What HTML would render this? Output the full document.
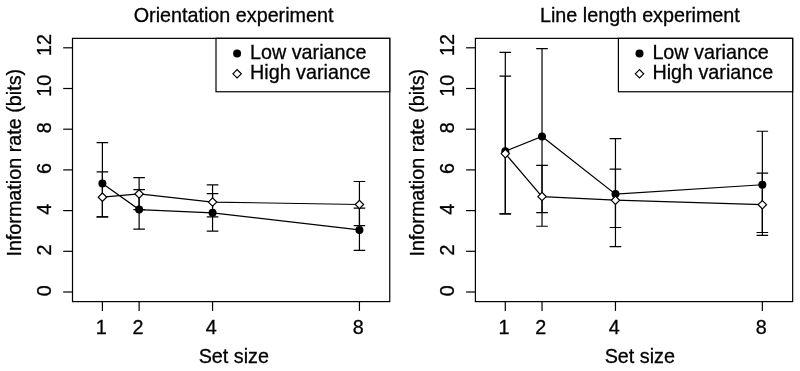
<!DOCTYPE html>
<html><head><meta charset="utf-8"><title>Information rate plots</title>
<style>
html,body{margin:0;padding:0;background:#fff;}
svg{display:block;}
svg line,svg path,svg polyline,svg rect,svg circle{stroke-width:1.2px;}
svg text{font-family:"Liberation Sans",Arial,Helvetica,sans-serif;font-size:19.75px;fill:#000;stroke:#000;stroke-width:0.3px;}
</style></head>
<body>
<svg width="800" height="371" viewBox="0 0 800 371" style="filter:grayscale(1)">
<rect width="800" height="371" fill="#fff"/>
<g>
<rect x="72.50" y="38.35" width="317.26" height="263.25" fill="none" stroke="#000"/>
<line x1="63.20" x2="72.50" y1="292.00" y2="292.00" stroke="#000"/>
<text transform="translate(51.20,290.65) rotate(-90)" text-anchor="middle">0</text>
<line x1="63.20" x2="72.50" y1="251.30" y2="251.30" stroke="#000"/>
<text transform="translate(51.20,249.95) rotate(-90)" text-anchor="middle">2</text>
<line x1="63.20" x2="72.50" y1="210.60" y2="210.60" stroke="#000"/>
<text transform="translate(51.20,209.25) rotate(-90)" text-anchor="middle">4</text>
<line x1="63.20" x2="72.50" y1="169.90" y2="169.90" stroke="#000"/>
<text transform="translate(51.20,168.55) rotate(-90)" text-anchor="middle">6</text>
<line x1="63.20" x2="72.50" y1="129.20" y2="129.20" stroke="#000"/>
<text transform="translate(51.20,127.85) rotate(-90)" text-anchor="middle">8</text>
<line x1="63.20" x2="72.50" y1="88.50" y2="88.50" stroke="#000"/>
<text transform="translate(51.20,85.80) rotate(-90)" text-anchor="middle">10</text>
<line x1="63.20" x2="72.50" y1="47.80" y2="47.80" stroke="#000"/>
<text transform="translate(51.20,45.10) rotate(-90)" text-anchor="middle">12</text>
<line x1="102.40" x2="102.40" y1="301.6" y2="310.90000000000003" stroke="#000"/>
<text x="101.20" y="333.5" text-anchor="middle">1</text>
<line x1="139.12" x2="139.12" y1="301.6" y2="310.90000000000003" stroke="#000"/>
<text x="137.92" y="333.5" text-anchor="middle">2</text>
<line x1="212.56" x2="212.56" y1="301.6" y2="310.90000000000003" stroke="#000"/>
<text x="211.36" y="333.5" text-anchor="middle">4</text>
<line x1="359.44" x2="359.44" y1="301.6" y2="310.90000000000003" stroke="#000"/>
<text x="358.24" y="333.5" text-anchor="middle">8</text>
<text x="133.70" y="22.15">Orientation experiment</text>
<text x="198.70" y="363.15">Set size</text>
<text transform="translate(20.80,256.6) rotate(-90)">Information rate (bits)</text>
<polyline points="102.40,183.53 139.12,209.58 212.56,212.84 359.44,229.93" fill="none" stroke="#000"/>
<path d="M102.40 216.91V142.63M96.60 216.91h11.6M96.60 142.63h11.6" fill="none" stroke="#000"/>
<path d="M139.12 229.12V189.64M133.32 229.12h11.6M133.32 189.64h11.6" fill="none" stroke="#000"/>
<path d="M212.56 231.15V193.71M206.76 231.15h11.6M206.76 193.71h11.6" fill="none" stroke="#000"/>
<path d="M359.44 250.28V208.16M353.64 250.28h11.6M353.64 208.16h11.6" fill="none" stroke="#000"/>
<circle cx="102.40" cy="183.53" r="4.0" fill="#000"/>
<circle cx="139.12" cy="209.58" r="4.0" fill="#000"/>
<circle cx="212.56" cy="212.84" r="4.0" fill="#000"/>
<circle cx="359.44" cy="229.93" r="4.0" fill="#000"/>
<polyline points="102.40,197.17 139.12,193.91 212.56,202.05 359.44,204.50" fill="none" stroke="#000"/>
<path d="M102.40 216.91V171.94M96.60 216.91h11.6M96.60 171.94h11.6" fill="none" stroke="#000"/>
<path d="M139.12 209.58V177.63M133.32 209.58h11.6M133.32 177.63h11.6" fill="none" stroke="#000"/>
<path d="M212.56 216.91V184.96M206.76 216.91h11.6M206.76 184.96h11.6" fill="none" stroke="#000"/>
<path d="M359.44 225.66V181.50M353.64 225.66h11.6M353.64 181.50h11.6" fill="none" stroke="#000"/>
<path d="M98.20 197.17L102.40 192.97L106.60 197.17L102.40 201.37Z" fill="#fff" stroke="#000"/>
<path d="M134.92 193.91L139.12 189.71L143.32 193.91L139.12 198.11Z" fill="#fff" stroke="#000"/>
<path d="M208.36 202.05L212.56 197.85L216.76 202.05L212.56 206.25Z" fill="#fff" stroke="#000"/>
<path d="M355.24 204.50L359.44 200.30L363.64 204.50L359.44 208.69Z" fill="#fff" stroke="#000"/>
<rect x="216.00" y="38.35" width="173.76" height="53.4" fill="#fff" stroke="#000"/>
<circle cx="237.10" cy="53.4" r="4.0" fill="#000"/>
<path d="M232.90 73.8L237.10 69.6L241.30 73.8L237.10 78.0Z" fill="#fff" stroke="#000"/>
<text x="250.00" y="59">Low variance</text>
<text x="250.00" y="79">High variance</text>
</g>
<g>
<rect x="475.40" y="38.35" width="317.26" height="263.25" fill="none" stroke="#000"/>
<line x1="466.10" x2="475.40" y1="292.00" y2="292.00" stroke="#000"/>
<text transform="translate(454.10,290.65) rotate(-90)" text-anchor="middle">0</text>
<line x1="466.10" x2="475.40" y1="251.30" y2="251.30" stroke="#000"/>
<text transform="translate(454.10,249.95) rotate(-90)" text-anchor="middle">2</text>
<line x1="466.10" x2="475.40" y1="210.60" y2="210.60" stroke="#000"/>
<text transform="translate(454.10,209.25) rotate(-90)" text-anchor="middle">4</text>
<line x1="466.10" x2="475.40" y1="169.90" y2="169.90" stroke="#000"/>
<text transform="translate(454.10,168.55) rotate(-90)" text-anchor="middle">6</text>
<line x1="466.10" x2="475.40" y1="129.20" y2="129.20" stroke="#000"/>
<text transform="translate(454.10,127.85) rotate(-90)" text-anchor="middle">8</text>
<line x1="466.10" x2="475.40" y1="88.50" y2="88.50" stroke="#000"/>
<text transform="translate(454.10,85.80) rotate(-90)" text-anchor="middle">10</text>
<line x1="466.10" x2="475.40" y1="47.80" y2="47.80" stroke="#000"/>
<text transform="translate(454.10,45.10) rotate(-90)" text-anchor="middle">12</text>
<line x1="505.30" x2="505.30" y1="301.6" y2="310.90000000000003" stroke="#000"/>
<text x="504.10" y="333.5" text-anchor="middle">1</text>
<line x1="542.02" x2="542.02" y1="301.6" y2="310.90000000000003" stroke="#000"/>
<text x="540.82" y="333.5" text-anchor="middle">2</text>
<line x1="615.46" x2="615.46" y1="301.6" y2="310.90000000000003" stroke="#000"/>
<text x="614.26" y="333.5" text-anchor="middle">4</text>
<line x1="762.34" x2="762.34" y1="301.6" y2="310.90000000000003" stroke="#000"/>
<text x="761.14" y="333.5" text-anchor="middle">8</text>
<text x="540.00" y="22.15">Line length experiment</text>
<text x="604.70" y="363.15">Set size</text>
<text transform="translate(423.80,256.6) rotate(-90)">Information rate (bits)</text>
<polyline points="505.30,151.18 542.02,136.53 615.46,194.12 762.34,184.76" fill="none" stroke="#000"/>
<path d="M505.30 213.86V52.28M499.50 213.86h11.6M499.50 52.28h11.6" fill="none" stroke="#000"/>
<path d="M542.02 226.27V48.61M536.22 226.27h11.6M536.22 48.61h11.6" fill="none" stroke="#000"/>
<path d="M615.46 246.62V138.56M609.66 246.62h11.6M609.66 138.56h11.6" fill="none" stroke="#000"/>
<path d="M762.34 235.30V131.23M756.54 235.30h11.6M756.54 131.23h11.6" fill="none" stroke="#000"/>
<circle cx="505.30" cy="151.18" r="4.0" fill="#000"/>
<circle cx="542.02" cy="136.53" r="4.0" fill="#000"/>
<circle cx="615.46" cy="194.12" r="4.0" fill="#000"/>
<circle cx="762.34" cy="184.76" r="4.0" fill="#000"/>
<polyline points="505.30,153.62 542.02,196.56 615.46,200.22 762.34,204.70" fill="none" stroke="#000"/>
<path d="M505.30 213.86V76.09M499.50 213.86h11.6M499.50 76.09h11.6" fill="none" stroke="#000"/>
<path d="M542.02 212.63V165.42M536.22 212.63h11.6M536.22 165.42h11.6" fill="none" stroke="#000"/>
<path d="M615.46 227.49V169.09M609.66 227.49h11.6M609.66 169.09h11.6" fill="none" stroke="#000"/>
<path d="M762.34 232.50V173.16M756.54 232.50h11.6M756.54 173.16h11.6" fill="none" stroke="#000"/>
<path d="M501.10 153.62L505.30 149.42L509.50 153.62L505.30 157.82Z" fill="#fff" stroke="#000"/>
<path d="M537.82 196.56L542.02 192.36L546.22 196.56L542.02 200.76Z" fill="#fff" stroke="#000"/>
<path d="M611.26 200.22L615.46 196.02L619.66 200.22L615.46 204.42Z" fill="#fff" stroke="#000"/>
<path d="M758.14 204.70L762.34 200.50L766.54 204.70L762.34 208.90Z" fill="#fff" stroke="#000"/>
<rect x="618.40" y="38.35" width="174.26" height="53.4" fill="#fff" stroke="#000"/>
<circle cx="639.50" cy="53.4" r="4.0" fill="#000"/>
<path d="M635.30 73.8L639.50 69.6L643.70 73.8L639.50 78.0Z" fill="#fff" stroke="#000"/>
<text x="652.40" y="59">Low variance</text>
<text x="652.40" y="79">High variance</text>
</g>
</svg>
</body></html>
